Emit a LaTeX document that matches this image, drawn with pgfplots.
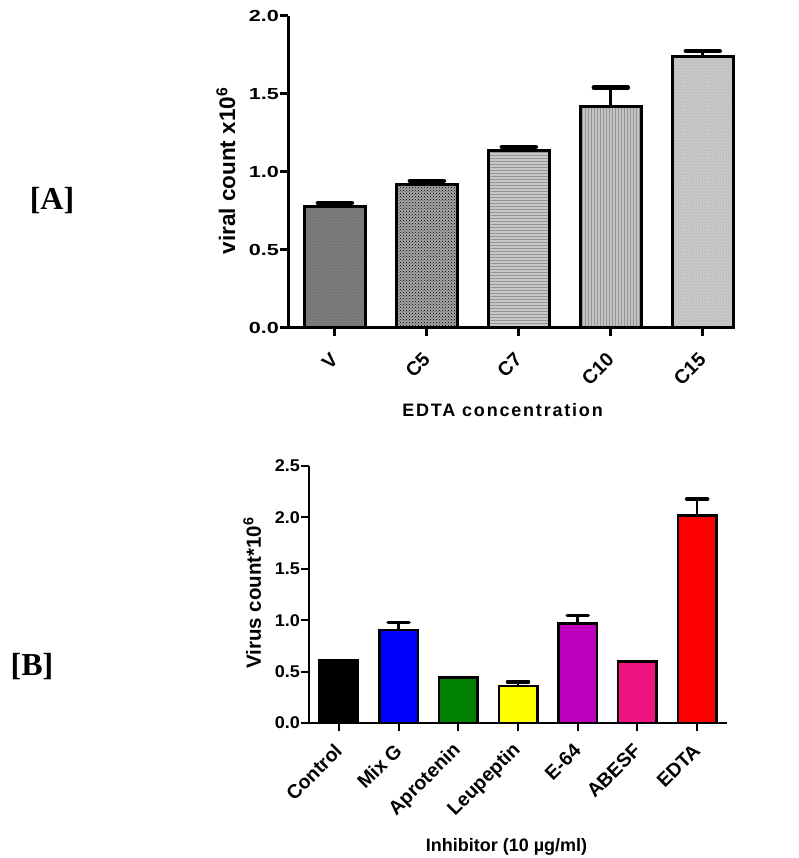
\documentclass[border=0pt]{standalone}
\usepackage{fontspec}
\setmainfont{Liberation Sans}
\newfontfamily\tickA{Liberation Sans Bold}[FakeStretch=1.35]
\newfontfamily\tickB{Liberation Sans Bold}[FakeStretch=1.06]
\newfontfamily\sansb{Liberation Sans Bold}
\newfontfamily\spaced{Liberation Sans Bold}[LetterSpace=10]
\newfontfamily\serifb{Liberation Serif Bold}
\usepackage{pgfplots}
\pgfplotsset{compat=1.18}
\usetikzlibrary{patterns}
\definecolor{gV}{RGB}{125,125,125}
\definecolor{gC5}{RGB}{165,165,165}
\definecolor{gC7}{RGB}{200,200,200}
\definecolor{gC10}{RGB}{195,195,195}
\definecolor{gC15}{RGB}{200,200,200}
\definecolor{pat}{RGB}{150,150,150}
\definecolor{cMix}{RGB}{0,0,255}
\definecolor{cApro}{RGB}{0,128,0}
\definecolor{cLeu}{RGB}{255,255,0}
\definecolor{cE}{RGB}{190,0,190}
\definecolor{cAB}{RGB}{240,20,130}
\definecolor{cED}{RGB}{255,0,0}
\pgfplotsset{
  erA/.style={error bars/.cd, y dir=plus, y explicit,
    error bar style={line width=3pt, black},
    error mark options={rotate=90, black, line width=4.5pt, line cap=round, mark size=17pt}},
  erB/.style={error bars/.cd, y dir=plus, y explicit,
    error bar style={line width=2.5pt, black},
    error mark options={rotate=90, black, line width=3.5pt, line cap=round, mark size=10.5pt}},
}
\begin{document}
\begin{tikzpicture}[x=1pt,y=1pt]
\useasboundingbox (0,0) rectangle (799,858);
\node[font=\serifb\fontsize{32}{36}\selectfont, anchor=base] at (52,648) {[A]};
\node[font=\serifb\fontsize{32}{36}\selectfont, anchor=base] at (32,182) {[B]};
% ---------------- Panel A
\begin{axis}[
  at={(288pt,530pt)}, anchor=south west,
  scale only axis, width=447pt, height=312pt,
  xmin=-0.51, xmax=4.35, ymin=0, ymax=2.0,
  axis x line*=bottom, axis y line*=left,
  axis line style={line width=3pt, -},
  ytick={0,0.5,1.0,1.5,2.0},
  /pgf/number format/assume math mode=true,
  yticklabel style={/pgf/number format/fixed, /pgf/number format/fixed zerofill, /pgf/number format/precision=1, inner sep=1pt, font=\tickA\fontsize{16}{18}\selectfont},
  xtick={0,1,2,3,4}, xticklabels={V,C5,C7,C10,C15},
  tick align=outside, major tick length=8pt,
  tick style={line width=3pt, black},
  xticklabel style={font=\sansb\fontsize{19.5}{21}\selectfont, xshift=2pt, yshift=-18pt, rotate=45, anchor=east},
  xlabel={EDTA concentration},
  xlabel style={font=\spaced\fontsize{18}{20}\selectfont, at={(axis description cs:0.48,-0.263)}, anchor=center},
  ylabel={viral count x10\textsuperscript{6}},
  ylabel style={font=\sansb\fontsize{22.5}{26}\selectfont, at={(axis description cs:-0.139,0.503)}, anchor=center},
  axis on top,
  clip=false,
]
\addplot[ybar, bar width=61pt, draw=black, line width=3pt, fill=gV,
  postaction={pattern=crosshatch dots, pattern color=black!60}, erA]
  coordinates {(0,0.776) +- (0,0.026)};
\addplot[ybar, bar width=61pt, draw=black, line width=3pt, fill=gC5,
  postaction={pattern=crosshatch dots, pattern color=black}, erA]
  coordinates {(1,0.923) +- (0,0.02)};
\addplot[ybar, bar width=61pt, draw=black, line width=3pt, fill=gC7,
  postaction={pattern=horizontal lines, pattern color=pat}, erA]
  coordinates {(2,1.14) +- (0,0.02)};
\addplot[ybar, bar width=61pt, draw=black, line width=3pt, fill=gC10,
  postaction={pattern=vertical lines, pattern color=pat}, erA]
  coordinates {(3,1.42) +- (0,0.12)};
\addplot[ybar, bar width=61pt, draw=black, line width=3pt, fill=gC15,
  postaction={pattern=dots, pattern color=pat}, erA]
  coordinates {(4,1.74) +- (0,0.035)};
\end{axis}
% ---------------- Panel B
\begin{axis}[
  at={(309pt,135pt)}, anchor=south west,
  scale only axis, width=418pt, height=257pt,
  xmin=-0.5, xmax=6.5, ymin=0, ymax=2.5,
  axis x line*=bottom, axis y line*=left,
  axis line style={line width=2pt, -},
  ytick={0,0.5,1.0,1.5,2.0,2.5},
  /pgf/number format/assume math mode=true,
  yticklabel style={/pgf/number format/fixed, /pgf/number format/fixed zerofill, /pgf/number format/precision=1, inner sep=1pt, font=\tickB\fontsize{17}{19}\selectfont},
  xtick={0,1,2,3,4,5,6}, xticklabels={Control,Mix G,Aprotenin,Leupeptin,E-64,ABESF,EDTA},
  tick align=outside, major tick length=8pt,
  tick style={line width=2pt, black},
  xticklabel style={font=\sansb\fontsize{19.5}{21}\selectfont, xshift=2pt, yshift=-14pt, rotate=45, anchor=east},
  xlabel={Inhibitor (10 µg/ml)},
  xlabel style={font=\sansb\fontsize{18}{20}\selectfont, at={(axis description cs:0.4725,-0.482)}, anchor=center},
  ylabel={Virus count*10\textsuperscript{6}},
  ylabel style={font=\sansb\fontsize{20.5}{23}\selectfont, at={(axis description cs:-0.136,0.506)}, anchor=center},
  axis on top,
  clip=false,
]
\addplot[ybar, bar width=38.5pt, draw=black, line width=2.5pt, fill=black]
  coordinates {(0,0.61)};
\addplot[ybar, bar width=38.5pt, draw=black, line width=2.5pt, fill=cMix, erB]
  coordinates {(1,0.905) +- (0,0.075)};
\addplot[ybar, bar width=38.5pt, draw=black, line width=2.5pt, fill=cApro]
  coordinates {(2,0.445)};
\addplot[ybar, bar width=38.5pt, draw=black, line width=2.5pt, fill=cLeu, erB]
  coordinates {(3,0.36) +- (0,0.04)};
\addplot[ybar, bar width=38.5pt, draw=black, line width=2.5pt, fill=cE, erB]
  coordinates {(4,0.97) +- (0,0.075)};
\addplot[ybar, bar width=38.5pt, draw=black, line width=2.5pt, fill=cAB]
  coordinates {(5,0.60)};
\addplot[ybar, bar width=38.5pt, draw=black, line width=2.5pt, fill=cED, erB]
  coordinates {(6,2.02) +- (0,0.16)};
\end{axis}
\end{tikzpicture}
\end{document}
